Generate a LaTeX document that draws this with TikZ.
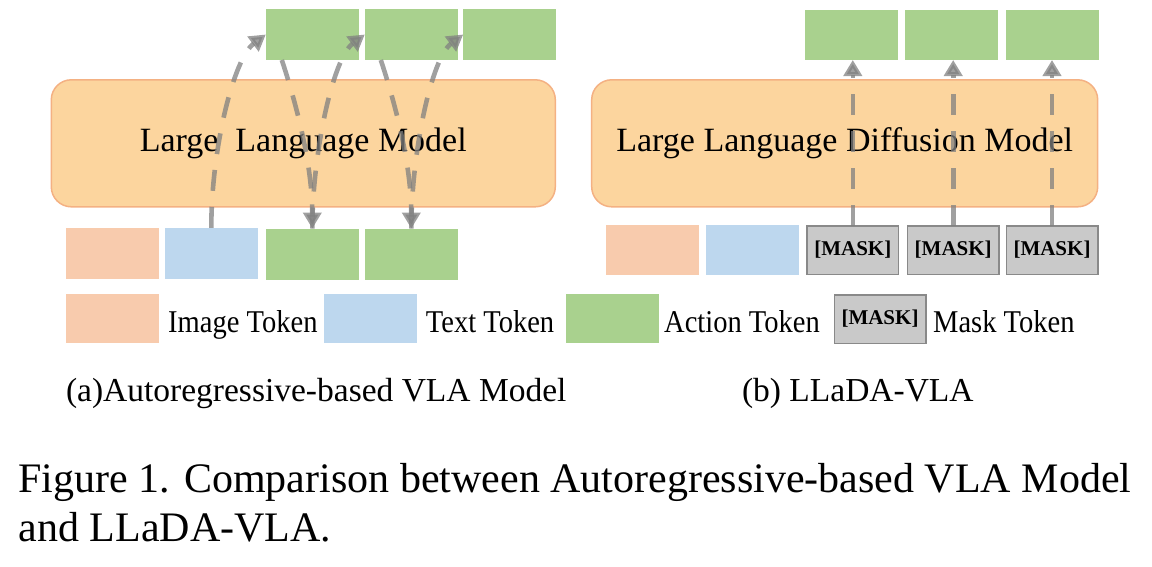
\documentclass[tikz,border=0pt]{standalone}
\usepackage{fontspec}
\setmainfont{Liberation Serif}
\newfontfamily\legfont[FakeStretch=0.9]{Liberation Serif}
\usetikzlibrary{arrows.meta}

\definecolor{imgcol}{RGB}{248,203,173}
\definecolor{txtcol}{RGB}{189,215,238}
\definecolor{actcol}{RGB}{169,209,142}
\definecolor{maskcol}{RGB}{201,201,201}
\definecolor{maskline}{RGB}{137,137,137}
\definecolor{llmcol}{RGB}{252,213,158}
\definecolor{llmline}{RGB}{244,177,131}
\definecolor{arrcol}{RGB}{128,128,128}

\tikzset{
	token/.style={minimum width=93pt, minimum height=51pt, inner sep=0pt, outer sep=0pt},
	imgtok/.style={token, fill=imgcol},
	txttok/.style={token, fill=txtcol},
	acttok/.style={token, fill=actcol},
	masktok/.style={token, fill=maskcol, draw=maskline, line width=1.5pt, minimum width=91.5pt, minimum height=48.5pt, font=\fontsize{21}{24}\selectfont\bfseries},
	llm/.style={fill=llmcol, draw=llmline, line width=1.5pt, rounded corners=20pt, minimum height=127pt, inner sep=0pt, font=\fontsize{34}{40}\selectfont},
	flow/.style={arrcol, opacity=0.75, line width=4.6pt, dash pattern=on 21pt off 16pt, -{Triangle[width=18pt,length=16pt]}},
	legtxt/.style={anchor=base west, inner sep=0pt, font=\legfont\fontsize{31.7}{36}\selectfont},
	subcap/.style={anchor=base west, inner sep=0pt, font=\fontsize{33.5}{38}\selectfont},
	figcap/.style={anchor=base west, inner sep=0pt, font=\fontsize{42}{50}\selectfont}
}

\begin{document}
\begin{tikzpicture}[x=1pt,y=-1pt]
			\useasboundingbox (0,0) rectangle (1152,566);
			
			%%%%% (a) autoregressive %%%%%
			\node[llm, minimum width=504pt] (llmA) at (303.3,143.3) {Large\ \ Language Model};
			
			\node[acttok] (outA1) at (312.3,34.5) {};
			\node[acttok] (outA2) at (411.3,34.5) {};
			\node[acttok] (outA3) at (509.7,34.5) {};
			
			\node[imgtok] (imgA) at (112.5,253.3) {};
			\node[txttok] (txtA) at (211.3,253.3) {};
			\node[acttok] (inA1) at (312.3,254) {};
			\node[acttok] (inA2) at (411.3,254) {};
			
			\draw[flow] (txtA.north) .. controls +(0,-80) and +(-32,24) .. (outA1.west);
			\draw[flow] ([xshift=16pt]outA1.south west) .. controls +(10,30) and +(0,-70) .. (inA1.north);
			\draw[flow] (inA1.north) .. controls +(0,-75) and +(-32,24) .. (outA2.west);
			\draw[flow] ([xshift=16pt]outA2.south west) .. controls +(10,30) and +(0,-70) .. (inA2.north);
			\draw[flow] (inA2.north) .. controls +(0,-75) and +(-32,24) .. (outA3.west);
			
			%%%%% (b) diffusion %%%%%
			\node[llm, minimum width=506pt] (llmB) at (844.7,143.3) {Large Language Diffusion Model};
			
			\node[acttok, minimum height=50pt] (outB1) at (851.5,35) {};
			\node[acttok, minimum height=50pt] (outB2) at (951.3,35) {};
			\node[acttok, minimum height=50pt] (outB3) at (1052.3,35) {};
			
			\node[imgtok, minimum height=50pt] (imgB) at (652.5,250) {};
			\node[txttok, minimum height=50pt] (txtB) at (752.5,250) {};
			\node[masktok] (maskB1) at (852.8,250) {[MASK]};
			\node[masktok] (maskB2) at (953.2,250) {[MASK]};
			\node[masktok] (maskB3) at (1052,250) {[MASK]};
			
			\draw[flow] (maskB1.north) -- (maskB1.north |- outB1.south);
			\draw[flow] (maskB2.north) -- (maskB2.north |- outB2.south);
			\draw[flow] (maskB3.north) -- (maskB3.north |- outB3.south);
			
			%%%%% legend %%%%%
			\node[imgtok, minimum height=49pt] (legImg) at (112.3,318.7) {};
			\node[legtxt] (legImgTxt) at (168,332.7) {Image Token};
			\node[txttok, minimum height=49pt] (legTxt) at (370.5,318.7) {};
			\node[legtxt] (legTxtTxt) at (425.7,332.7) {Text Token};
			\node[acttok, minimum height=49pt] (legAct) at (612.8,318.7) {};
			\node[legtxt] (legActTxt) at (664,332.7) {Action Token};
			\node[masktok] (legMask) at (880,319) {[MASK]};
			\node[legtxt] (legMaskTxt) at (933,332.7) {Mask Token};
			
			\node[subcap] (capA) at (65.8,401.7) {(a)Autoregressive-based VLA Model};
			\node[subcap] (capB) at (741.8,401.2) {(b) LLaDA-VLA};
			
			\node[figcap] (figA) at (18.4,492) {Figure 1. Comparison between Autoregressive-based VLA Model};
			\node[figcap] (figB) at (18.4,541.7) {and LLaDA-VLA.};
\end{tikzpicture}
\end{document}
